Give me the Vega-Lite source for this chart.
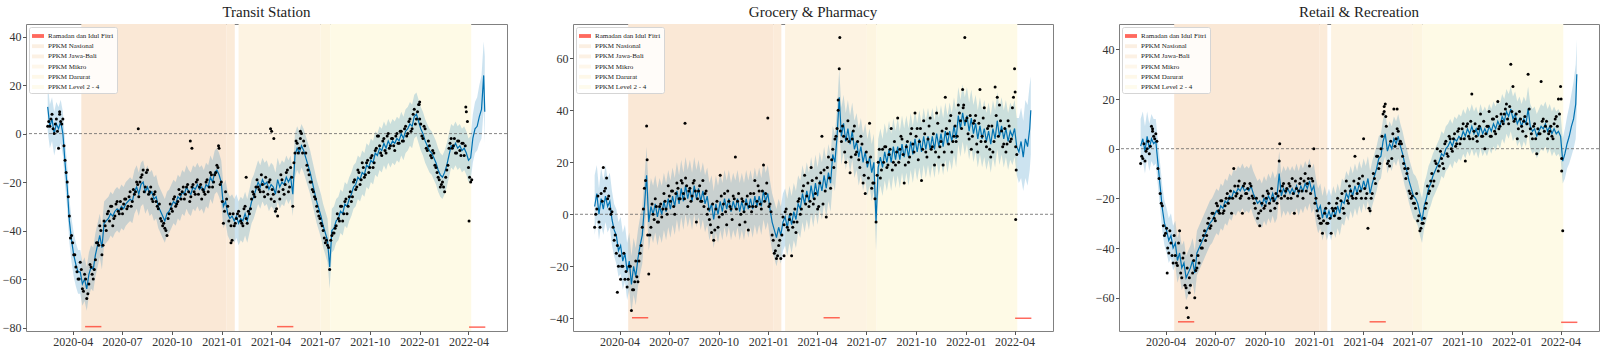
{
"$schema":"https://vega.github.io/schema/vega-lite/v6.json",
"padding":{"left":1,"top":4,"right":0,"bottom":0},
"datasets":{
"p":[{"k":"PPKM Nasional","s":"2020-04-17","e":"2021-01-10"},{"k":"PPKM Jawa-Bali","s":"2021-01-10","e":"2021-01-25"},{"k":"PPKM Mikro","s":"2021-02-01","e":"2021-07-02"},{"k":"PPKM Darurat","s":"2021-07-02","e":"2021-07-20"},{"k":"PPKM Level 2 - 4","s":"2021-07-20","e":"2022-04-06"}],
"r":[{"k":"Ramadan dan Idul Fitri","s":"2020-04-24","e":"2020-05-24","ya":-79.6,"yb":-39.8,"yc":-69.7},{"k":"Ramadan dan Idul Fitri","s":"2021-04-13","e":"2021-05-13","ya":-79.6,"yb":-39.8,"yc":-69.7},{"k":"Ramadan dan Idul Fitri","s":"2022-04-02","e":"2022-05-02","ya":-79.8,"yb":-40,"yc":-69.9}],
"x":[{"d":"2020-07-31","a":2,"b":35},{"d":"2020-11-04","a":-3},{"d":"2020-11-07","a":-6},{"d":"2021-01-18","a":-45},{"d":"2021-02-15","a":-18},{"d":"2021-04-01","a":2},{"d":"2021-04-03","a":1},{"d":"2021-04-07","a":-2},{"d":"2021-12-31","a":12},{"d":"2022-01-01","a":13},{"d":"2022-03-27","a":11},{"d":"2022-04-02","a":-36,"b":47,"c":20},{"d":"2022-04-07","a":-19},{"d":"2020-12-26","a":-5},{"d":"2021-05-26","a":1},{"d":"2020-03-08","a":9,"c":8},{"d":"2020-05-22","b":21},{"d":"2021-05-10","b":44,"c":17},{"d":"2021-05-13","b":68,"c":13},{"d":"2022-04-03","b":-2,"c":-9},{"d":"2022-04-04","b":17},{"d":"2020-03-28","b":-30},{"d":"2021-01-30","b":-16},{"d":"2021-12-27","b":41},{"d":"2020-05-10","c":-64},{"d":"2020-05-15","c":-58},{"d":"2020-04-04","c":-50},{"d":"2020-10-29","c":2},{"d":"2021-06-03","c":16}],
"n":[
{"d":"2020-02-17","a":5,"b":0,"c":-3},{"d":"2020-02-21","a":6,"b":7,"c":2},{"d":"2020-02-25","a":2,"b":-5,"c":-1},{"d":"2020-02-29","a":4,"b":5,"c":3},
{"d":"2020-03-04","a":1,"b":9,"c":1},{"d":"2020-03-08","a":8,"b":14,"c":7},{"d":"2020-03-12","a":4,"b":7,"c":4},{"d":"2020-03-16","a":-5,"b":0,"c":3},
{"d":"2020-03-20","a":-16,"b":-5,"c":-12},{"d":"2020-03-24","a":-26,"b":-8,"c":-22},{"d":"2020-03-28","a":-43,"b":-12,"c":-31},{"d":"2020-04-01","a":-45,"b":-16,"c":-34},
{"d":"2020-04-05","a":-50,"b":-20,"c":-40},{"d":"2020-04-09","a":-57,"b":-15,"c":-33},{"d":"2020-04-13","a":-60,"b":-22,"c":-43},{"d":"2020-04-17","a":-56,"b":-25,"c":-35},
{"d":"2020-04-21","a":-65,"b":-20,"c":-46},{"d":"2020-04-25","a":-60,"b":-29,"c":-38},{"d":"2020-04-29","a":-66,"b":-26,"c":-50},{"d":"2020-05-03","a":-54,"b":-24,"c":-44},
{"d":"2020-05-07","a":-58,"b":-18,"c":-55},{"d":"2020-05-11","a":-56,"b":-12,"c":-48},{"d":"2020-05-15","a":-45,"b":2,"c":-52},{"d":"2020-05-19","a":-46,"b":13,"c":-43},
{"d":"2020-05-23","a":-40,"b":-8,"c":-45},{"d":"2020-05-27","a":-46,"b":-8,"c":-49},{"d":"2020-05-31","a":-38,"b":4,"c":-43},{"d":"2020-06-04","a":-33,"b":-2,"c":-37},
{"d":"2020-06-08","a":-36,"b":3,"c":-40},{"d":"2020-06-12","a":-30,"b":-3,"c":-33},{"d":"2020-06-16","a":-35,"b":4,"c":-35},{"d":"2020-06-20","a":-29,"b":2,"c":-28},
{"d":"2020-06-24","a":-32,"b":5,"c":-31},{"d":"2020-06-28","a":-28,"b":0,"c":-26},{"d":"2020-07-02","a":-33,"b":7,"c":-29},{"d":"2020-07-06","a":-27,"b":9,"c":-23},
{"d":"2020-07-10","a":-31,"b":3,"c":-26},{"d":"2020-07-14","a":-26,"b":8,"c":-21},{"d":"2020-07-18","a":-30,"b":10,"c":-25},{"d":"2020-07-22","a":-23,"b":6,"c":-20},
{"d":"2020-07-26","a":-24,"b":12,"c":-22},{"d":"2020-07-30","a":-21,"b":6,"c":-17},{"d":"2020-08-03","a":-20,"b":11,"c":-20},{"d":"2020-08-07","a":-17,"b":9,"c":-15},
{"d":"2020-08-11","a":-24,"b":5,"c":-18},{"d":"2020-08-15","a":-16,"b":12,"c":-13},{"d":"2020-08-19","a":-25,"b":9,"c":-19},{"d":"2020-08-23","a":-22,"b":6,"c":-15},
{"d":"2020-08-27","a":-28,"b":11,"c":-18},{"d":"2020-08-31","a":-24,"b":5,"c":-16},{"d":"2020-09-04","a":-30,"b":3,"c":-14},{"d":"2020-09-08","a":-29,"b":9,"c":-19},
{"d":"2020-09-12","a":-36,"b":2,"c":-22},{"d":"2020-09-16","a":-37,"b":-4,"c":-20},{"d":"2020-09-20","a":-40,"b":4,"c":-26},{"d":"2020-09-24","a":-35,"b":-6,"c":-25},
{"d":"2020-09-28","a":-29,"b":5,"c":-19},{"d":"2020-10-02","a":-32,"b":-1,"c":-23},{"d":"2020-10-06","a":-26,"b":7,"c":-17},{"d":"2020-10-10","a":-29,"b":4,"c":-22},
{"d":"2020-10-14","a":-23,"b":1,"c":-16},{"d":"2020-10-18","a":-27,"b":9,"c":-21},{"d":"2020-10-22","a":-22,"b":3,"c":-18},{"d":"2020-10-26","a":-25,"b":-2,"c":-19},
{"d":"2020-10-30","a":-21,"b":6,"c":-17},{"d":"2020-11-03","a":-28,"b":2,"c":-15},{"d":"2020-11-07","a":-22,"b":8,"c":-19},{"d":"2020-11-11","a":-24,"b":0,"c":-16},
{"d":"2020-11-15","a":-20,"b":5,"c":-14},{"d":"2020-11-19","a":-25,"b":-3,"c":-20},{"d":"2020-11-23","a":-21,"b":7,"c":-18},{"d":"2020-11-27","a":-23,"b":3,"c":-13},
{"d":"2020-12-01","a":-25,"b":1,"c":-19},{"d":"2020-12-05","a":-19,"b":8,"c":-14},{"d":"2020-12-09","a":-22,"b":3,"c":-17},{"d":"2020-12-13","a":-17,"b":11,"c":-13},
{"d":"2020-12-17","a":-20,"b":4,"c":-17},{"d":"2020-12-21","a":-16,"b":9,"c":-12},{"d":"2020-12-25","a":-14,"b":5,"c":-18},{"d":"2020-12-29","a":-21,"b":12,"c":-13},
{"d":"2021-01-02","a":-28,"b":3,"c":-22},{"d":"2021-01-06","a":-32,"b":1,"c":-25},{"d":"2021-01-10","a":-27,"b":-10,"c":-28},{"d":"2021-01-14","a":-36,"b":-14,"c":-30},
{"d":"2021-01-18","a":-38,"b":-16,"c":-29},{"d":"2021-01-22","a":-33,"b":-10,"c":-24},{"d":"2021-01-26","a":-37,"b":-8,"c":-30},{"d":"2021-01-30","a":-33,"b":-4,"c":-28},
{"d":"2021-02-03","a":-34,"b":2,"c":-24},{"d":"2021-02-07","a":-37,"b":-6,"c":-27},{"d":"2021-02-11","a":-31,"b":0,"c":-22},{"d":"2021-02-15","a":-35,"b":-5,"c":-28},
{"d":"2021-02-19","a":-32,"b":2,"c":-21},{"d":"2021-02-23","a":-31,"b":-3,"c":-24},{"d":"2021-02-27","a":-24,"b":6,"c":-17},{"d":"2021-03-03","a":-26,"b":2,"c":-21},
{"d":"2021-03-07","a":-19,"b":11,"c":-15},{"d":"2021-03-11","a":-23,"b":4,"c":-19},{"d":"2021-03-15","a":-17,"b":12,"c":-13},{"d":"2021-03-19","a":-24,"b":5,"c":-20},
{"d":"2021-03-23","a":-18,"b":13,"c":-14},{"d":"2021-03-27","a":-25,"b":6,"c":-17},{"d":"2021-03-31","a":-19,"b":14,"c":-11},{"d":"2021-04-04","a":-23,"b":3,"c":-16},
{"d":"2021-04-08","a":-28,"b":16,"c":-18},{"d":"2021-04-12","a":-31,"b":4,"c":-24},{"d":"2021-04-16","a":-24,"b":9,"c":-20},{"d":"2021-04-20","a":-17,"b":18,"c":-10},
{"d":"2021-04-24","a":-23,"b":14,"c":-14},{"d":"2021-04-28","a":-21,"b":21,"c":-3},{"d":"2021-05-02","a":-15,"b":18,"c":-6},{"d":"2021-05-06","a":-22,"b":30,"c":5},
{"d":"2021-05-10","a":-18,"b":40,"c":15},{"d":"2021-05-14","a":-12,"b":32,"c":9},{"d":"2021-05-18","a":-3,"b":34,"c":-5},{"d":"2021-05-22","a":-8,"b":24,"c":3},
{"d":"2021-05-26","a":-2,"b":29,"c":6},{"d":"2021-05-30","a":-8,"b":28,"c":1},{"d":"2021-06-03","a":-5,"b":22,"c":8},{"d":"2021-06-07","a":-13,"b":32,"c":2},
{"d":"2021-06-11","a":-17,"b":23,"c":2},{"d":"2021-06-15","a":-20,"b":28,"c":-6},{"d":"2021-06-19","a":-24,"b":18,"c":-12},{"d":"2021-06-23","a":-27,"b":27,"c":-8},
{"d":"2021-06-27","a":-32,"b":15,"c":-18},{"d":"2021-07-01","a":-35,"b":24,"c":-19},{"d":"2021-07-05","a":-38,"b":14,"c":-22},{"d":"2021-07-09","a":-43,"b":22,"c":-18},
{"d":"2021-07-13","a":-44,"b":12,"c":-27},{"d":"2021-07-17","a":-47,"b":6,"c":-32},{"d":"2021-07-21","a":-44,"b":15,"c":-30},{"d":"2021-07-25","a":-41,"b":25,"c":-24},
{"d":"2021-07-29","a":-39,"b":17,"c":-15},{"d":"2021-08-02","a":-33,"b":20,"c":-17},{"d":"2021-08-06","a":-36,"b":26,"c":-10},{"d":"2021-08-10","a":-30,"b":19,"c":-13},
{"d":"2021-08-14","a":-33,"b":25,"c":-6},{"d":"2021-08-18","a":-27,"b":17,"c":-9},{"d":"2021-08-22","a":-30,"b":28,"c":-1},{"d":"2021-08-26","a":-24,"b":24,"c":-6},
{"d":"2021-08-30","a":-26,"b":20,"c":2},{"d":"2021-09-03","a":-19,"b":30,"c":-2},{"d":"2021-09-07","a":-22,"b":23,"c":5},{"d":"2021-09-11","a":-16,"b":19,"c":0},
{"d":"2021-09-15","a":-19,"b":28,"c":4},{"d":"2021-09-19","a":-14,"b":22,"c":1},{"d":"2021-09-23","a":-17,"b":33,"c":7},{"d":"2021-09-27","a":-11,"b":24,"c":2},
{"d":"2021-10-01","a":-14,"b":30,"c":8},{"d":"2021-10-05","a":-9,"b":21,"c":4},{"d":"2021-10-09","a":-12,"b":33,"c":9},{"d":"2021-10-13","a":-6,"b":25,"c":5},
{"d":"2021-10-17","a":-1,"b":31,"c":11},{"d":"2021-10-21","a":-8,"b":22,"c":4},{"d":"2021-10-25","a":-3,"b":34,"c":10},{"d":"2021-10-29","a":-7,"b":25,"c":3},
{"d":"2021-11-02","a":-1,"b":31,"c":9},{"d":"2021-11-06","a":-6,"b":24,"c":5},{"d":"2021-11-10","a":-2,"b":35,"c":11},{"d":"2021-11-14","a":-5,"b":26,"c":6},
{"d":"2021-11-18","a":-1,"b":32,"c":9},{"d":"2021-11-22","a":-4,"b":24,"c":5},{"d":"2021-11-26","a":1,"b":33,"c":12},{"d":"2021-11-30","a":-3,"b":27,"c":7},
{"d":"2021-12-04","a":2,"b":38,"c":13},{"d":"2021-12-08","a":-1,"b":28,"c":8},{"d":"2021-12-12","a":5,"b":34,"c":14},{"d":"2021-12-16","a":1,"b":30,"c":10},
{"d":"2021-12-20","a":8,"b":39,"c":16},{"d":"2021-12-24","a":4,"b":33,"c":12},{"d":"2021-12-28","a":9,"b":42,"c":17},{"d":"2022-01-01","a":6,"b":36,"c":15},
{"d":"2022-01-05","a":-1,"b":31,"c":11},{"d":"2022-01-09","a":3,"b":38,"c":14},{"d":"2022-01-13","a":-6,"b":30,"c":8},{"d":"2022-01-17","a":-3,"b":36,"c":12},
{"d":"2022-01-21","a":-9,"b":27,"c":7},{"d":"2022-01-25","a":-7,"b":35,"c":13},{"d":"2022-01-29","a":-13,"b":28,"c":10},{"d":"2022-02-02","a":-16,"b":37,"c":16},
{"d":"2022-02-06","a":-19,"b":28,"c":6},{"d":"2022-02-10","a":-21,"b":33,"c":9},{"d":"2022-02-14","a":-22,"b":25,"c":4},{"d":"2022-02-18","a":-18,"b":34,"c":8},
{"d":"2022-02-22","a":-13,"b":28,"c":6},{"d":"2022-02-26","a":-4,"b":38,"c":11},{"d":"2022-03-02","a":-6,"b":30,"c":7},{"d":"2022-03-06","a":-2,"b":36,"c":11},
{"d":"2022-03-10","a":-8,"b":26,"c":6},{"d":"2022-03-14","a":-3,"b":33,"c":9},{"d":"2022-03-18","a":-9,"b":27,"c":4},{"d":"2022-03-22","a":-4,"b":34,"c":12},
{"d":"2022-03-26","a":-5,"b":29,"c":9},{"d":"2022-03-30","a":5,"b":45,"c":14},{"d":"2022-04-03","a":-18,"b":26,"c":-4}
],
"m":[
{"d":"2020-02-15","a":3,"af":11,"al":1,"au":21,"b":-5,"bf":3,"bl":-8,"bu":15,"c":-6,"cf":1,"cl":-8,"cu":12},
{"d":"2020-02-19","a":3,"af":3,"al":-6,"au":12,"b":2,"bf":8,"bl":-2,"bu":19,"c":-4,"cf":4,"cl":-5,"cu":15},
{"d":"2020-02-23","a":8,"af":6,"al":-3,"au":15,"b":-3,"bf":0,"bl":-10,"bu":10,"c":-5,"cf":-1,"cl":-10,"cu":9},
{"d":"2020-02-27","a":0,"af":0,"al":-9,"au":9,"b":8,"bf":6,"bl":-4,"bu":18,"c":0,"cf":5,"cl":-4,"cu":15},
{"d":"2020-03-02","a":6,"af":4,"al":-5,"au":13,"b":18,"bf":2,"bl":-8,"bu":13,"c":-2,"cf":0,"cl":-9,"cu":10},
{"d":"2020-03-06","a":-6,"af":2,"al":-7,"au":11,"b":10,"bf":7,"bl":-3,"bu":19,"c":9,"cf":4,"cl":-5,"cu":14},
{"d":"2020-03-10","a":5,"af":5,"al":-4,"au":14,"b":6,"bf":3,"bl":-7,"bu":14,"c":5,"cf":2,"cl":-7,"cu":12},
{"d":"2020-03-14","a":6,"af":0,"al":-9,"au":9,"b":2,"bf":5,"bl":-5,"bu":16,"c":6,"cf":3,"cl":-6,"cu":12},
{"d":"2020-03-18","a":-11,"af":-12,"al":-21,"au":-3,"b":1,"bf":-2,"bl":-12,"bu":9,"c":-8,"cf":-6,"cl":-15,"cu":3},
{"d":"2020-03-22","a":-20,"af":-22,"al":-31,"au":-13,"b":-10,"bf":-6,"bl":-16,"bu":4,"c":-18,"cf":-15,"cl":-24,"cu":-6},
{"d":"2020-03-26","a":-34,"af":-36,"al":-45,"au":-27,"b":-15,"bf":-8,"bl":-19,"bu":2,"c":-23,"cf":-24,"cl":-33,"cu":-15},
{"d":"2020-03-30","a":-42,"af":-44,"al":-53,"au":-35,"b":-20,"bf":-14,"bl":-24,"bu":-3,"c":-35,"cf":-30,"cl":-39,"cu":-21},
{"d":"2020-04-03","a":-50,"af":-50,"al":-59,"au":-41,"b":-25,"bf":-12,"bl":-23,"bu":-1,"c":-32,"cf":-33,"cl":-42,"cu":-24},
{"d":"2020-04-07","a":-55,"af":-54,"al":-63,"au":-45,"b":-20,"bf":-18,"bl":-29,"bu":-7,"c":-42,"cf":-37,"cl":-46,"cu":-28},
{"d":"2020-04-11","a":-60,"af":-57,"al":-66,"au":-48,"b":-25,"bf":-15,"bl":-26,"bu":-4,"c":-38,"cf":-35,"cl":-44,"cu":-26},
{"d":"2020-04-15","a":-53,"af":-57,"al":-66,"au":-48,"b":-28,"bf":-22,"bl":-33,"bu":-11,"c":-46,"cf":-40,"cl":-49,"cu":-31},
{"d":"2020-04-19","a":-64,"af":-62,"al":-71,"au":-53,"b":-20,"bf":-18,"bl":-29,"bu":-7,"c":-43,"cf":-38,"cl":-47,"cu":-29},
{"d":"2020-04-23","a":-58,"af":-60,"al":-69,"au":-51,"b":-37,"bf":-27,"bl":-38,"bu":-16,"c":-47,"cf":-45,"cl":-54,"cu":-36},
{"d":"2020-04-27","a":-68,"af":-64,"al":-73,"au":-55,"b":-29,"bf":-20,"bl":-31,"bu":-9,"c":-33,"cf":-42,"cl":-51,"cu":-33},
{"d":"2020-05-01","a":-62,"af":-58,"al":-67,"au":-49,"b":-18,"bf":-24,"bl":-35,"bu":-13,"c":-52,"cf":-48,"cl":-57,"cu":-39},
{"d":"2020-05-05","a":-55,"af":-55,"al":-64,"au":-46,"b":-26,"bf":-17,"bl":-28,"bu":-6,"c":-42,"cf":-46,"cl":-55,"cu":-37},
{"d":"2020-05-09","a":-60,"af":-56,"al":-65,"au":-47,"b":-15,"bf":-12,"bl":-23,"bu":-1,"c":-56,"cf":-52,"cl":-61,"cu":-43},
{"d":"2020-05-13","a":-52,"af":-50,"al":-59,"au":-41,"b":-5,"bf":-8,"bl":-19,"bu":3,"c":-68,"cf":-50,"cl":-59,"cu":-41},
{"d":"2020-05-17","a":-45,"af":-46,"al":-55,"au":-37,"b":10,"bf":3,"bl":-8,"bu":14,"c":-55,"cf":-48,"cl":-57,"cu":-39},
{"d":"2020-05-21","a":-38,"af":-42,"al":-51,"au":-33,"b":34,"bf":15,"bl":4,"bu":26,"c":-50,"cf":-45,"cl":-54,"cu":-36},
{"d":"2020-05-25","a":-50,"af":-47,"al":-56,"au":-38,"b":-23,"bf":-3,"bl":-14,"bu":8,"c":-60,"cf":-50,"cl":-59,"cu":-41},
{"d":"2020-05-29","a":-36,"af":-37,"al":-46,"au":-28,"b":-5,"bf":3,"bl":-8,"bu":14,"c":-48,"cf":-42,"cl":-51,"cu":-33},
{"d":"2020-06-02","a":-40,"af":-36,"al":-45,"au":-27,"b":0,"bf":0,"bl":-11,"bu":11,"c":-46,"cf":-40,"cl":-49,"cu":-31},
{"d":"2020-06-06","a":-32,"af":-35,"al":-44,"au":-26,"b":6,"bf":4,"bl":-7,"bu":15,"c":-40,"cf":-38,"cl":-47,"cu":-29},
{"d":"2020-06-10","a":-30,"af":-33,"al":-42,"au":-24,"b":-3,"bf":-1,"bl":-12,"bu":10,"c":-35,"cf":-36,"cl":-45,"cu":-27},
{"d":"2020-06-14","a":-38,"af":-34,"al":-43,"au":-25,"b":3,"bf":3,"bl":-8,"bu":14,"c":-37,"cf":-34,"cl":-43,"cu":-25},
{"d":"2020-06-18","a":-34,"af":-32,"al":-41,"au":-23,"b":-1,"bf":0,"bl":-11,"bu":11,"c":-30,"cf":-32,"cl":-41,"cu":-23},
{"d":"2020-06-22","a":-28,"af":-31,"al":-40,"au":-22,"b":8,"bf":5,"bl":-6,"bu":16,"c":-32,"cf":-30,"cl":-39,"cu":-21},
{"d":"2020-06-26","a":-33,"af":-32,"al":-41,"au":-23,"b":2,"bf":1,"bl":-10,"bu":12,"c":-26,"cf":-29,"cl":-38,"cu":-20},
{"d":"2020-06-30","a":-31,"af":-30,"al":-39,"au":-21,"b":11,"bf":6,"bl":-5,"bu":17,"c":-28,"cf":-27,"cl":-36,"cu":-18},
{"d":"2020-07-04","a":-29,"af":-31,"al":-40,"au":-22,"b":5,"bf":2,"bl":-9,"bu":13,"c":-22,"cf":-25,"cl":-34,"cu":-16},
{"d":"2020-07-08","a":-27,"af":-29,"al":-38,"au":-20,"b":9,"bf":7,"bl":-4,"bu":18,"c":-25,"cf":-26,"cl":-35,"cu":-17},
{"d":"2020-07-12","a":-30,"af":-28,"al":-37,"au":-19,"b":0,"bf":3,"bl":-8,"bu":14,"c":-21,"cf":-23,"cl":-32,"cu":-14},
{"d":"2020-07-16","a":-24,"af":-27,"al":-36,"au":-18,"b":12,"bf":9,"bl":-2,"bu":20,"c":-26,"cf":-24,"cl":-33,"cu":-15},
{"d":"2020-07-20","a":-28,"af":-28,"al":-37,"au":-19,"b":6,"bf":4,"bl":-7,"bu":15,"c":-23,"cf":-21,"cl":-30,"cu":-12},
{"d":"2020-07-24","a":-25,"af":-24,"al":-33,"au":-15,"b":13,"bf":10,"bl":-1,"bu":21,"c":-18,"cf":-22,"cl":-31,"cu":-13},
{"d":"2020-07-28","a":-20,"af":-22,"al":-31,"au":-13,"b":8,"bf":5,"bl":-6,"bu":16,"c":-20,"cf":-19,"cl":-28,"cu":-10},
{"d":"2020-08-01","a":-26,"af":-25,"al":-34,"au":-16,"b":14,"bf":11,"bl":0,"bu":22,"c":-26,"cf":-20,"cl":-29,"cu":-11},
{"d":"2020-08-05","a":-18,"af":-21,"al":-30,"au":-12,"b":3,"bf":6,"bl":-5,"bu":17,"c":-8,"cf":-17,"cl":-26,"cu":-8},
{"d":"2020-08-09","a":-15,"af":-20,"al":-29,"au":-11,"b":10,"bf":10,"bl":-1,"bu":21,"c":-19,"cf":-18,"cl":-27,"cu":-9},
{"d":"2020-08-13","a":-22,"af":-24,"al":-33,"au":-15,"b":7,"bf":5,"bl":-6,"bu":16,"c":-15,"cf":-16,"cl":-25,"cu":-7},
{"d":"2020-08-17","a":-15,"af":-22,"al":-31,"au":-13,"b":13,"bf":11,"bl":0,"bu":22,"c":-20,"cf":-17,"cl":-26,"cu":-8},
{"d":"2020-08-21","a":-24,"af":-25,"al":-34,"au":-16,"b":-3,"bf":6,"bl":-5,"bu":17,"c":-26,"cf":-15,"cl":-24,"cu":-6},
{"d":"2020-08-25","a":-27,"af":-24,"al":-33,"au":-15,"b":9,"bf":10,"bl":-1,"bu":21,"c":-14,"cf":-17,"cl":-26,"cu":-8},
{"d":"2020-08-29","a":-25,"af":-27,"al":-36,"au":-18,"b":5,"bf":5,"bl":-6,"bu":16,"c":-18,"cf":-16,"cl":-25,"cu":-7},
{"d":"2020-09-02","a":-28,"af":-26,"al":-35,"au":-17,"b":13,"bf":9,"bl":-2,"bu":20,"c":-20,"cf":-17,"cl":-26,"cu":-8},
{"d":"2020-09-06","a":-31,"af":-30,"al":-39,"au":-21,"b":8,"bf":4,"bl":-7,"bu":15,"c":-15,"cf":-15,"cl":-24,"cu":-6},
{"d":"2020-09-10","a":-35,"af":-32,"al":-41,"au":-23,"b":0,"bf":7,"bl":-4,"bu":18,"c":-20,"cf":-18,"cl":-27,"cu":-9},
{"d":"2020-09-14","a":-38,"af":-34,"al":-43,"au":-25,"b":-2,"bf":1,"bl":-10,"bu":12,"c":-24,"cf":-20,"cl":-29,"cu":-11},
{"d":"2020-09-18","a":-39,"af":-36,"al":-45,"au":-27,"b":-7,"bf":4,"bl":-7,"bu":15,"c":-28,"cf":-22,"cl":-31,"cu":-13},
{"d":"2020-09-22","a":-42,"af":-33,"al":-42,"au":-24,"b":-10,"bf":-2,"bl":-13,"bu":9,"c":-31,"cf":-21,"cl":-30,"cu":-12},
{"d":"2020-09-26","a":-33,"af":-32,"al":-41,"au":-23,"b":2,"bf":4,"bl":-7,"bu":15,"c":-22,"cf":-23,"cl":-32,"cu":-14},
{"d":"2020-09-30","a":-31,"af":-30,"al":-39,"au":-21,"b":-5,"bf":0,"bl":-11,"bu":11,"c":-24,"cf":-20,"cl":-29,"cu":-11},
{"d":"2020-10-04","a":-27,"af":-28,"al":-37,"au":-19,"b":15,"bf":5,"bl":-6,"bu":16,"c":-20,"cf":-22,"cl":-31,"cu":-13},
{"d":"2020-10-08","a":-30,"af":-29,"al":-38,"au":-20,"b":0,"bf":1,"bl":-10,"bu":12,"c":-18,"cf":-19,"cl":-28,"cu":-10},
{"d":"2020-10-12","a":-28,"af":-26,"al":-35,"au":-17,"b":8,"bf":6,"bl":-5,"bu":17,"c":-25,"cf":-21,"cl":-30,"cu":-12},
{"d":"2020-10-16","a":-25,"af":-27,"al":-36,"au":-18,"b":-4,"bf":2,"bl":-9,"bu":13,"c":-20,"cf":-18,"cl":-27,"cu":-9},
{"d":"2020-10-20","a":-24,"af":-24,"al":-33,"au":-15,"b":5,"bf":6,"bl":-5,"bu":17,"c":-24,"cf":-21,"cl":-30,"cu":-12},
{"d":"2020-10-24","a":-27,"af":-25,"al":-34,"au":-16,"b":2,"bf":1,"bl":-10,"bu":12,"c":-22,"cf":-19,"cl":-28,"cu":-10},
{"d":"2020-10-28","a":-22,"af":-22,"al":-31,"au":-13,"b":7,"bf":5,"bl":-6,"bu":16,"c":-5,"cf":-10,"cl":-19,"cu":-1},
{"d":"2020-11-01","a":-24,"af":-24,"al":-33,"au":-15,"b":22,"bf":2,"bl":-9,"bu":13,"c":-20,"cf":-19,"cl":-28,"cu":-10},
{"d":"2020-11-05","a":-26,"af":-25,"al":-34,"au":-16,"b":5,"bf":6,"bl":-5,"bu":17,"c":-14,"cf":-16,"cl":-25,"cu":-7},
{"d":"2020-11-09","a":-21,"af":-22,"al":-31,"au":-13,"b":-4,"bf":1,"bl":-10,"bu":12,"c":-17,"cf":-18,"cl":-27,"cu":-9},
{"d":"2020-11-13","a":-25,"af":-23,"al":-32,"au":-14,"b":6,"bf":5,"bl":-6,"bu":16,"c":-20,"cf":-16,"cl":-25,"cu":-7},
{"d":"2020-11-17","a":-19,"af":-21,"al":-30,"au":-12,"b":1,"bf":1,"bl":-10,"bu":12,"c":-15,"cf":-18,"cl":-27,"cu":-9},
{"d":"2020-11-21","a":-22,"af":-23,"al":-32,"au":-14,"b":4,"bf":6,"bl":-5,"bu":17,"c":-12,"cf":-16,"cl":-25,"cu":-7},
{"d":"2020-11-25","a":-27,"af":-22,"al":-31,"au":-13,"b":-6,"bf":2,"bl":-9,"bu":13,"c":-26,"cf":-18,"cl":-27,"cu":-9},
{"d":"2020-11-29","a":-24,"af":-24,"al":-33,"au":-15,"b":8,"bf":6,"bl":-5,"bu":17,"c":-16,"cf":-15,"cl":-24,"cu":-6},
{"d":"2020-12-03","a":-20,"af":-21,"al":-30,"au":-12,"b":3,"bf":2,"bl":-9,"bu":13,"c":-17,"cf":-18,"cl":-27,"cu":-9},
{"d":"2020-12-07","a":-24,"af":-22,"al":-31,"au":-13,"b":13,"bf":7,"bl":-4,"bu":18,"c":-12,"cf":-15,"cl":-24,"cu":-6},
{"d":"2020-12-11","a":-16,"af":-18,"al":-27,"au":-9,"b":5,"bf":3,"bl":-8,"bu":14,"c":-20,"cf":-17,"cl":-26,"cu":-8},
{"d":"2020-12-15","a":-22,"af":-20,"al":-29,"au":-11,"b":9,"bf":7,"bl":-4,"bu":18,"c":-10,"cf":-14,"cl":-23,"cu":-5},
{"d":"2020-12-19","a":-17,"af":-16,"al":-25,"au":-7,"b":2,"bf":3,"bl":-8,"bu":14,"c":-14,"cf":-16,"cl":-25,"cu":-7},
{"d":"2020-12-23","a":-13,"af":-15,"al":-24,"au":-6,"b":19,"bf":9,"bl":-2,"bu":20,"c":-7,"cf":-13,"cl":-22,"cu":-4},
{"d":"2020-12-27","a":-6,"af":-17,"al":-26,"au":-8,"b":8,"bf":5,"bl":-6,"bu":16,"c":-12,"cf":-17,"cl":-26,"cu":-8},
{"d":"2020-12-31","a":-20,"af":-20,"al":-29,"au":-11,"b":37,"bf":8,"bl":-3,"bu":19,"c":0,"cf":-15,"cl":-24,"cu":-6},
{"d":"2021-01-04","a":-37,"af":-30,"al":-39,"au":-21,"b":4,"bf":2,"bl":-9,"bu":13,"c":-20,"cf":-21,"cl":-30,"cu":-12},
{"d":"2021-01-08","a":-24,"af":-28,"al":-37,"au":-19,"b":-8,"bf":-3,"bl":-14,"bu":8,"c":-27,"cf":-25,"cl":-34,"cu":-16},
{"d":"2021-01-12","a":-30,"af":-33,"al":-42,"au":-24,"b":-15,"bf":-6,"bl":-17,"bu":5,"c":-30,"cf":-23,"cl":-32,"cu":-14},
{"d":"2021-01-16","a":-33,"af":-35,"al":-44,"au":-26,"b":-17,"bf":-9,"bl":-20,"bu":2,"c":-34,"cf":-28,"cl":-37,"cu":-19},
{"d":"2021-01-20","a":-44,"af":-34,"al":-43,"au":-25,"b":-12,"bf":-5,"bl":-16,"bu":6,"c":-26,"cf":-24,"cl":-33,"cu":-15},
{"d":"2021-01-24","a":-38,"af":-36,"al":-45,"au":-27,"b":-17,"bf":-8,"bl":-19,"bu":3,"c":-30,"cf":-28,"cl":-37,"cu":-19},
{"d":"2021-01-28","a":-35,"af":-34,"al":-43,"au":-25,"b":-1,"bf":-3,"bl":-14,"bu":8,"c":-22,"cf":-25,"cl":-34,"cu":-16},
{"d":"2021-02-01","a":-32,"af":-37,"al":-46,"au":-28,"b":1,"bf":-1,"bl":-12,"bu":10,"c":-34,"cf":-28,"cl":-37,"cu":-19},
{"d":"2021-02-05","a":-36,"af":-35,"al":-44,"au":-26,"b":-5,"bf":-5,"bl":-16,"bu":6,"c":-25,"cf":-24,"cl":-33,"cu":-15},
{"d":"2021-02-09","a":-38,"af":-36,"al":-45,"au":-27,"b":-2,"bf":0,"bl":-11,"bu":11,"c":-24,"cf":-27,"cl":-36,"cu":-18},
{"d":"2021-02-13","a":-30,"af":-33,"al":-42,"au":-24,"b":-16,"bf":-4,"bl":-15,"bu":7,"c":-20,"cf":-23,"cl":-32,"cu":-14},
{"d":"2021-02-17","a":-37,"af":-36,"al":-45,"au":-27,"b":-3,"bf":1,"bl":-10,"bu":12,"c":-28,"cf":-26,"cl":-35,"cu":-17},
{"d":"2021-02-21","a":-33,"af":-32,"al":-41,"au":-23,"b":-7,"bf":-2,"bl":-13,"bu":9,"c":-18,"cf":-21,"cl":-30,"cu":-12},
{"d":"2021-02-25","a":-27,"af":-28,"al":-37,"au":-19,"b":5,"bf":4,"bl":-7,"bu":15,"c":-26,"cf":-22,"cl":-31,"cu":-13},
{"d":"2021-03-01","a":-25,"af":-26,"al":-35,"au":-17,"b":0,"bf":2,"bl":-9,"bu":13,"c":-13,"cf":-18,"cl":-27,"cu":-9},
{"d":"2021-03-05","a":-22,"af":-23,"al":-32,"au":-14,"b":9,"bf":8,"bl":-3,"bu":19,"c":-22,"cf":-20,"cl":-29,"cu":-11},
{"d":"2021-03-09","a":-22,"af":-20,"al":-29,"au":-11,"b":15,"bf":4,"bl":-7,"bu":15,"c":-17,"cf":-16,"cl":-25,"cu":-7},
{"d":"2021-03-13","a":-24,"af":-22,"al":-31,"au":-13,"b":7,"bf":9,"bl":-2,"bu":20,"c":-20,"cf":-19,"cl":-28,"cu":-10},
{"d":"2021-03-17","a":-21,"af":-19,"al":-28,"au":-10,"b":3,"bf":5,"bl":-6,"bu":16,"c":-3,"cf":-15,"cl":-24,"cu":-6},
{"d":"2021-03-21","a":-26,"af":-21,"al":-30,"au":-12,"b":18,"bf":11,"bl":0,"bu":22,"c":-18,"cf":-18,"cl":-27,"cu":-9},
{"d":"2021-03-25","a":-22,"af":-20,"al":-29,"au":-11,"b":4,"bf":6,"bl":-5,"bu":17,"c":-12,"cf":-14,"cl":-23,"cu":-5},
{"d":"2021-03-29","a":-20,"af":-23,"al":-32,"au":-14,"b":8,"bf":12,"bl":1,"bu":23,"c":-20,"cf":-17,"cl":-26,"cu":-8},
{"d":"2021-04-02","a":-27,"af":-21,"al":-30,"au":-12,"b":2,"bf":7,"bl":-4,"bu":18,"c":4,"cf":-13,"cl":-22,"cu":-4},
{"d":"2021-04-06","a":-25,"af":-22,"al":-31,"au":-13,"b":12,"bf":13,"bl":2,"bu":24,"c":-20,"cf":-16,"cl":-25,"cu":-7},
{"d":"2021-04-10","a":-32,"af":-25,"al":-34,"au":-16,"b":30,"bf":9,"bl":-2,"bu":20,"c":-32,"cf":-12,"cl":-21,"cu":-3},
{"d":"2021-04-14","a":-34,"af":-19,"al":-28,"au":-10,"b":17,"bf":15,"bl":4,"bu":26,"c":-25,"cf":-18,"cl":-27,"cu":-9},
{"d":"2021-04-18","a":-27,"af":-22,"al":-31,"au":-13,"b":-1,"bf":10,"bl":-1,"bu":21,"c":-18,"cf":-14,"cl":-23,"cu":-5},
{"d":"2021-04-22","a":-19,"af":-20,"al":-29,"au":-11,"b":22,"bf":16,"bl":5,"bu":27,"c":-12,"cf":-11,"cl":-20,"cu":-2},
{"d":"2021-04-26","a":-25,"af":-21,"al":-30,"au":-12,"b":10,"bf":12,"bl":1,"bu":23,"c":-3,"cf":-8,"cl":-17,"cu":1},
{"d":"2021-04-30","a":-16,"af":-18,"al":-27,"au":-9,"b":25,"bf":23,"bl":12,"bu":34,"c":-8,"cf":-4,"cl":-13,"cu":5},
{"d":"2021-05-04","a":-24,"af":-20,"al":-29,"au":-11,"b":29,"bf":20,"bl":9,"bu":31,"c":0,"cf":-3,"cl":-12,"cu":6},
{"d":"2021-05-08","a":-14,"af":-18,"al":-27,"au":-9,"b":33,"bf":30,"bl":19,"bu":41,"c":14,"cf":3,"cl":-6,"cu":12},
{"d":"2021-05-12","a":-30,"af":-25,"al":-34,"au":-16,"b":56,"bf":45,"bl":34,"bu":56,"c":18,"cf":6,"cl":-3,"cu":15},
{"d":"2021-05-16","a":-8,"af":-9,"al":-18,"au":0,"b":28,"bf":30,"bl":19,"bu":41,"c":-6,"cf":-1,"cl":-10,"cu":8},
{"d":"2021-05-20","a":-4,"af":-6,"al":-15,"au":3,"b":30,"bf":35,"bl":24,"bu":46,"c":-7,"cf":2,"cl":-7,"cu":11},
{"d":"2021-05-24","a":-6,"af":-8,"al":-17,"au":1,"b":20,"bf":28,"bl":17,"bu":39,"c":-4,"cf":0,"cl":-9,"cu":9},
{"d":"2021-05-28","a":0,"af":-5,"al":-14,"au":4,"b":36,"bf":33,"bl":22,"bu":44,"c":16,"cf":4,"cl":-5,"cu":13},
{"d":"2021-06-01","a":-3,"af":-7,"al":-16,"au":2,"b":16,"bf":27,"bl":16,"bu":38,"c":4,"cf":2,"cl":-7,"cu":11},
{"d":"2021-06-05","a":-8,"af":-10,"al":-19,"au":-1,"b":29,"bf":32,"bl":21,"bu":43,"c":7,"cf":5,"cl":-4,"cu":14},
{"d":"2021-06-09","a":-15,"af":-13,"al":-22,"au":-4,"b":34,"bf":25,"bl":14,"bu":36,"c":3,"cf":1,"cl":-8,"cu":10},
{"d":"2021-06-13","a":-20,"af":-16,"al":-25,"au":-7,"b":24,"bf":28,"bl":17,"bu":39,"c":-3,"cf":-2,"cl":-11,"cu":7},
{"d":"2021-06-17","a":-23,"af":-20,"al":-29,"au":-11,"b":21,"bf":22,"bl":11,"bu":33,"c":-8,"cf":-6,"cl":-15,"cu":3},
{"d":"2021-06-21","a":-26,"af":-24,"al":-33,"au":-15,"b":30,"bf":26,"bl":15,"bu":37,"c":-10,"cf":-9,"cl":-18,"cu":0},
{"d":"2021-06-25","a":-30,"af":-28,"al":-37,"au":-19,"b":12,"bf":20,"bl":9,"bu":31,"c":-17,"cf":-13,"cl":-22,"cu":-4},
{"d":"2021-06-29","a":-34,"af":-31,"al":-40,"au":-22,"b":8,"bf":24,"bl":13,"bu":35,"c":-20,"cf":-16,"cl":-25,"cu":-7},
{"d":"2021-07-03","a":-37,"af":-34,"al":-43,"au":-25,"b":20,"bf":18,"bl":7,"bu":29,"c":-22,"cf":-19,"cl":-28,"cu":-10},
{"d":"2021-07-07","a":-40,"af":-38,"al":-47,"au":-29,"b":35,"bf":22,"bl":11,"bu":33,"c":-24,"cf":-20,"cl":-29,"cu":-11},
{"d":"2021-07-11","a":-45,"af":-41,"al":-50,"au":-32,"b":10,"bf":16,"bl":5,"bu":27,"c":-29,"cf":-22,"cl":-31,"cu":-13},
{"d":"2021-07-15","a":-46,"af":-44,"al":-53,"au":-35,"b":12,"bf":20,"bl":9,"bu":31,"c":-33,"cf":-26,"cl":-35,"cu":-17},
{"d":"2021-07-19","a":-56,"af":-55,"al":-64,"au":-46,"b":-3,"bf":-3,"bl":-14,"bu":8,"c":-30,"cf":-29,"cl":-38,"cu":-20},
{"d":"2021-07-23","a":-42,"af":-40,"al":-49,"au":-31,"b":20,"bf":18,"bl":7,"bu":29,"c":-28,"cf":-23,"cl":-32,"cu":-14},
{"d":"2021-07-27","a":-41,"af":-39,"al":-48,"au":-30,"b":14,"bf":22,"bl":11,"bu":33,"c":-22,"cf":-20,"cl":-29,"cu":-11},
{"d":"2021-07-31","a":-38,"af":-36,"al":-45,"au":-27,"b":25,"bf":18,"bl":7,"bu":29,"c":-18,"cf":-16,"cl":-25,"cu":-7},
{"d":"2021-08-04","a":-35,"af":-35,"al":-44,"au":-26,"b":26,"bf":24,"bl":13,"bu":35,"c":-13,"cf":-14,"cl":-23,"cu":-5},
{"d":"2021-08-08","a":-30,"af":-32,"al":-41,"au":-23,"b":18,"bf":20,"bl":9,"bu":31,"c":-15,"cf":-11,"cl":-20,"cu":-2},
{"d":"2021-08-12","a":-36,"af":-33,"al":-42,"au":-24,"b":23,"bf":25,"bl":14,"bu":36,"c":-5,"cf":-9,"cl":-18,"cu":0},
{"d":"2021-08-16","a":-28,"af":-29,"al":-38,"au":-20,"b":33,"bf":20,"bl":9,"bu":31,"c":0,"cf":-7,"cl":-16,"cu":2},
{"d":"2021-08-20","a":-33,"af":-30,"al":-39,"au":-21,"b":20,"bf":26,"bl":15,"bu":37,"c":-7,"cf":-5,"cl":-14,"cu":4},
{"d":"2021-08-24","a":-26,"af":-27,"al":-36,"au":-18,"b":19,"bf":21,"bl":10,"bu":32,"c":-4,"cf":-2,"cl":-11,"cu":7},
{"d":"2021-08-28","a":-28,"af":-25,"al":-34,"au":-16,"b":37,"bf":26,"bl":15,"bu":37,"c":-8,"cf":-3,"cl":-12,"cu":6},
{"d":"2021-09-01","a":-20,"af":-22,"al":-31,"au":-13,"b":25,"bf":21,"bl":10,"bu":32,"c":3,"cf":0,"cl":-9,"cu":9},
{"d":"2021-09-05","a":-23,"af":-21,"al":-30,"au":-12,"b":29,"bf":27,"bl":16,"bu":38,"c":-3,"cf":1,"cl":-8,"cu":10},
{"d":"2021-09-09","a":-15,"af":-18,"al":-27,"au":-9,"b":12,"bf":22,"bl":11,"bu":33,"c":4,"cf":3,"cl":-6,"cu":12},
{"d":"2021-09-13","a":-21,"af":-19,"al":-28,"au":-10,"b":26,"bf":27,"bl":16,"bu":38,"c":-1,"cf":1,"cl":-8,"cu":10},
{"d":"2021-09-17","a":-12,"af":-16,"al":-25,"au":-7,"b":20,"bf":22,"bl":11,"bu":33,"c":6,"cf":4,"cl":-5,"cu":13},
{"d":"2021-09-21","a":-18,"af":-17,"al":-26,"au":-8,"b":31,"bf":28,"bl":17,"bu":39,"c":2,"cf":3,"cl":-6,"cu":12},
{"d":"2021-09-25","a":-12,"af":-13,"al":-22,"au":-4,"b":27,"bf":23,"bl":12,"bu":34,"c":8,"cf":5,"cl":-4,"cu":14},
{"d":"2021-09-29","a":-16,"af":-14,"al":-23,"au":-5,"b":39,"bf":29,"bl":18,"bu":40,"c":4,"cf":4,"cl":-5,"cu":13},
{"d":"2021-10-03","a":-10,"af":-11,"al":-20,"au":-2,"b":33,"bf":24,"bl":13,"bu":35,"c":10,"cf":7,"cl":-2,"cu":16},
{"d":"2021-10-07","a":-14,"af":-12,"al":-21,"au":-3,"b":28,"bf":29,"bl":18,"bu":40,"c":-5,"cf":5,"cl":-4,"cu":14},
{"d":"2021-10-11","a":-7,"af":-8,"al":-17,"au":1,"b":13,"bf":24,"bl":13,"bu":35,"c":10,"cf":8,"cl":-1,"cu":17},
{"d":"2021-10-15","a":-1,"af":-9,"al":-18,"au":0,"b":36,"bf":30,"bl":19,"bu":41,"c":4,"cf":6,"cl":-3,"cu":15},
{"d":"2021-10-19","a":-5,"af":-6,"al":-15,"au":3,"b":24,"bf":25,"bl":14,"bu":36,"c":22,"cf":9,"cl":0,"cu":18},
{"d":"2021-10-23","a":-9,"af":-7,"al":-16,"au":2,"b":29,"bf":30,"bl":19,"bu":41,"c":7,"cf":6,"cl":-3,"cu":15},
{"d":"2021-10-27","a":-2,"af":-4,"al":-13,"au":5,"b":37,"bf":25,"bl":14,"bu":36,"c":5,"cf":8,"cl":-1,"cu":17},
{"d":"2021-10-31","a":-8,"af":-6,"al":-15,"au":3,"b":26,"bf":30,"bl":19,"bu":41,"c":8,"cf":5,"cl":-4,"cu":14},
{"d":"2021-11-04","a":0,"af":-3,"al":-12,"au":6,"b":19,"bf":25,"bl":14,"bu":36,"c":14,"cf":9,"cl":0,"cu":18},
{"d":"2021-11-08","a":-5,"af":-5,"al":-14,"au":4,"b":39,"bf":31,"bl":20,"bu":42,"c":5,"cf":6,"cl":-3,"cu":15},
{"d":"2021-11-12","a":-2,"af":-3,"al":-12,"au":6,"b":22,"bf":26,"bl":15,"bu":37,"c":0,"cf":8,"cl":-1,"cu":17},
{"d":"2021-11-16","a":-7,"af":-4,"al":-13,"au":5,"b":28,"bf":31,"bl":20,"bu":42,"c":9,"cf":6,"cl":-3,"cu":15},
{"d":"2021-11-20","a":0,"af":-2,"al":-11,"au":7,"b":19,"bf":26,"bl":15,"bu":37,"c":15,"cf":9,"cl":0,"cu":18},
{"d":"2021-11-24","a":-4,"af":-3,"al":-12,"au":6,"b":45,"bf":32,"bl":21,"bu":43,"c":5,"cf":7,"cl":-2,"cu":16},
{"d":"2021-11-28","a":1,"af":0,"al":-9,"au":9,"b":31,"bf":27,"bl":16,"bu":38,"c":12,"cf":10,"cl":1,"cu":19},
{"d":"2021-12-02","a":-3,"af":-2,"al":-11,"au":7,"b":36,"bf":32,"bl":21,"bu":43,"c":6,"cf":8,"cl":-1,"cu":17},
{"d":"2021-12-06","a":3,"af":1,"al":-8,"au":10,"b":24,"bf":28,"bl":17,"bu":39,"c":19,"cf":11,"cl":2,"cu":20},
{"d":"2021-12-10","a":0,"af":2,"al":-7,"au":11,"b":30,"bf":34,"bl":23,"bu":45,"c":9,"cf":9,"cl":0,"cu":18},
{"d":"2021-12-14","a":6,"af":4,"al":-5,"au":13,"b":28,"bf":29,"bl":18,"bu":40,"c":11,"cf":13,"cl":4,"cu":22},
{"d":"2021-12-18","a":2,"af":3,"al":-6,"au":12,"b":42,"bf":38,"bl":27,"bu":49,"c":14,"cf":11,"cl":2,"cu":20},
{"d":"2021-12-22","a":10,"af":7,"al":-2,"au":16,"b":36,"bf":33,"bl":22,"bu":44,"c":18,"cf":15,"cl":6,"cu":24},
{"d":"2021-12-26","a":6,"af":8,"al":-1,"au":17,"b":48,"bf":39,"bl":28,"bu":50,"c":10,"cf":13,"cl":4,"cu":22},
{"d":"2021-12-30","a":12,"af":5,"al":-4,"au":14,"b":68,"bf":34,"bl":23,"bu":45,"c":34,"cf":16,"cl":7,"cu":25},
{"d":"2022-01-03","a":4,"af":2,"al":-7,"au":11,"b":37,"bf":38,"bl":27,"bu":49,"c":25,"cf":12,"cl":3,"cu":21},
{"d":"2022-01-07","a":-2,"af":0,"al":-9,"au":9,"b":29,"bf":32,"bl":21,"bu":43,"c":12,"cf":14,"cl":5,"cu":23},
{"d":"2022-01-11","a":2,"af":-3,"al":-12,"au":6,"b":25,"bf":37,"bl":26,"bu":48,"c":4,"cf":10,"cl":1,"cu":19},
{"d":"2022-01-15","a":-7,"af":-5,"al":-14,"au":4,"b":35,"bf":31,"bl":20,"bu":42,"c":15,"cf":12,"cl":3,"cu":21},
{"d":"2022-01-19","a":-5,"af":-7,"al":-16,"au":2,"b":38,"bf":35,"bl":24,"bu":46,"c":9,"cf":9,"cl":0,"cu":18},
{"d":"2022-01-23","a":-10,"af":-8,"al":-17,"au":1,"b":24,"bf":29,"bl":18,"bu":40,"c":11,"cf":12,"cl":3,"cu":21},
{"d":"2022-01-27","a":-8,"af":-10,"al":-19,"au":-1,"b":48,"bf":34,"bl":23,"bu":45,"c":5,"cf":10,"cl":1,"cu":19},
{"d":"2022-01-31","a":-14,"af":-12,"al":-21,"au":-3,"b":30,"bf":29,"bl":18,"bu":40,"c":30,"cf":16,"cl":7,"cu":25},
{"d":"2022-02-04","a":-18,"af":-15,"al":-24,"au":-6,"b":41,"bf":33,"bl":22,"bu":44,"c":8,"cf":9,"cl":0,"cu":18},
{"d":"2022-02-08","a":-22,"af":-17,"al":-26,"au":-8,"b":26,"bf":28,"bl":17,"bu":39,"c":4,"cf":7,"cl":-2,"cu":16},
{"d":"2022-02-12","a":-20,"af":-18,"al":-27,"au":-9,"b":34,"bf":32,"bl":21,"bu":43,"c":10,"cf":8,"cl":-1,"cu":17},
{"d":"2022-02-16","a":-24,"af":-16,"al":-25,"au":-7,"b":22,"bf":27,"bl":16,"bu":38,"c":-2,"cf":5,"cl":-4,"cu":14},
{"d":"2022-02-20","a":-15,"af":-13,"al":-22,"au":-4,"b":24,"bf":33,"bl":22,"bu":44,"c":6,"cf":7,"cl":-2,"cu":16},
{"d":"2022-02-24","a":-6,"af":-9,"al":-18,"au":0,"b":49,"bf":29,"bl":18,"bu":40,"c":27,"cf":9,"cl":0,"cu":18},
{"d":"2022-02-28","a":-2,"af":-5,"al":-14,"au":4,"b":45,"bf":36,"bl":25,"bu":47,"c":12,"cf":8,"cl":-1,"cu":17},
{"d":"2022-03-04","a":-5,"af":-6,"al":-15,"au":3,"b":42,"bf":30,"bl":19,"bu":41,"c":9,"cf":10,"cl":1,"cu":19},
{"d":"2022-03-08","a":-8,"af":-4,"al":-13,"au":5,"b":32,"bf":34,"bl":23,"bu":45,"c":4,"cf":7,"cl":-2,"cu":16},
{"d":"2022-03-12","a":-3,"af":-6,"al":-15,"au":3,"b":27,"bf":29,"bl":18,"bu":40,"c":7,"cf":9,"cl":0,"cu":18},
{"d":"2022-03-16","a":-7,"af":-5,"al":-14,"au":4,"b":24,"bf":33,"bl":22,"bu":44,"c":5,"cf":6,"cl":-3,"cu":15},
{"d":"2022-03-20","a":-4,"af":-7,"al":-16,"au":2,"b":36,"bf":28,"bl":17,"bu":39,"c":10,"cf":8,"cl":-1,"cu":17},
{"d":"2022-03-24","a":-9,"af":-6,"al":-15,"au":3,"b":28,"bf":32,"bl":21,"bu":43,"c":13,"cf":6,"cl":-3,"cu":15},
{"d":"2022-03-28","a":9,"af":-8,"al":-17,"au":1,"b":41,"bf":30,"bl":19,"bu":41,"c":20,"cf":7,"cl":-2,"cu":16},
{"d":"2022-04-01","a":-14,"af":-11,"al":-20,"au":-2,"b":56,"bf":33,"bl":22,"bu":44,"c":25,"cf":5,"cl":-4,"cu":14},
{"d":"2022-04-05","a":-20,"af":-10,"al":-19,"au":-1,"b":23,"bf":26,"bl":15,"bu":37,"c":-33,"cf":-5,"cl":-14,"cu":4},
{"d":"2022-04-09","af":-2,"al":-12,"au":8,"bf":24,"bl":12,"bu":37,"cf":-2,"cl":-12,"cu":8},
{"d":"2022-04-13","af":2,"al":-8,"au":13,"bf":28,"bl":14,"bu":41,"cf":2,"cl":-8,"cu":13},
{"d":"2022-04-17","af":3,"al":-7,"au":15,"bf":22,"bl":9,"bu":36,"cf":5,"cl":-6,"cu":17},
{"d":"2022-04-21","af":7,"al":-4,"au":20,"bf":29,"bl":14,"bu":44,"cf":9,"cl":-3,"cu":22},
{"d":"2022-04-25","af":10,"al":-2,"au":24,"bf":26,"bl":11,"bu":42,"cf":12,"cl":0,"cu":27},
{"d":"2022-04-29","af":24,"al":10,"au":38,"bf":33,"bl":17,"bu":50,"cf":18,"cl":4,"cu":34},
{"d":"2022-05-01","af":9,"al":-4,"au":32,"bf":40,"bl":23,"bu":53,"cf":30,"cl":16,"cu":44}
]},
"hconcat":[
{"width":481,"height":307,"title":"Transit Station","layer":[
{"data":{"name":"p"},"mark":{"type":"rect"},"encoding":{"x":{"field":"s","type":"temporal","scale":{"domain":["2020-01-06","2022-06-11"]},"axis":{"title":null,"format":"%Y-%m","labelFlush":false,"values":[{"year":2020,"month":"apr","date":1},{"year":2020,"month":"jul","date":1},{"year":2020,"month":"oct","date":1},{"year":2021,"month":"jan","date":1},{"year":2021,"month":"apr","date":1},{"year":2021,"month":"jul","date":1},{"year":2021,"month":"oct","date":1},{"year":2022,"month":"jan","date":1},{"year":2022,"month":"apr","date":1}]}},"x2":{"field":"e"},"color":{"field":"k","type":"nominal","scale":{"domain":["Ramadan dan Idul Fitri","PPKM Nasional","PPKM Jawa-Bali","PPKM Mikro","PPKM Darurat","PPKM Level 2 - 4"],"range":["#ff2a1a","#fae8d6","#fbebd9","#fdf3e2","#fdf5e0","#fefae6"]},"legend":{"title":null,"symbolType":"M-1,-0.32H1V0.32H-1Z","symbolStrokeWidth":0,"symbolOpacity":1}}}},
{"data":{"name":"r"},"mark":{"type":"rule","strokeWidth":1.5,"opacity":0.7},"encoding":{"x":{"field":"s","type":"temporal"},"x2":{"field":"e"},"y":{"field":"ya","type":"quantitative","scale":{"domain":[-81.4,45.2],"nice":false,"zero":false},"axis":{"title":null,"values":[-80,-60,-40,-20,0,20,40]}},"color":{"field":"k","type":"nominal"}}},
{"data":{"name":"m"},"mark":{"type":"area","color":"#0072B2","opacity":0.2},"encoding":{"x":{"field":"d","type":"temporal"},"y":{"field":"al","type":"quantitative"},"y2":{"field":"au"}}},
{"data":{"values":[{}]},"mark":{"type":"rule","color":"#666","strokeWidth":0.8,"strokeDash":[3,2]},"encoding":{"y":{"datum":0}}},
{"data":{"name":"m"},"mark":{"type":"line","color":"#0072B2","strokeWidth":1.2},"encoding":{"x":{"field":"d","type":"temporal"},"y":{"field":"af","type":"quantitative"}}},
{"data":{"name":"m"},"mark":{"type":"circle","color":"#000","size":9,"opacity":1},"encoding":{"x":{"field":"d","type":"temporal"},"y":{"field":"a","type":"quantitative"}}},
{"data":{"name":"n"},"mark":{"type":"circle","color":"#000","size":9,"opacity":1},"encoding":{"x":{"field":"d","type":"temporal"},"y":{"field":"a","type":"quantitative"}}},
{"data":{"name":"x"},"mark":{"type":"circle","color":"#000","size":9,"opacity":1},"encoding":{"x":{"field":"d","type":"temporal"},"y":{"field":"a","type":"quantitative"}}}
]},
{"width":480,"height":307,"title":"Grocery & Pharmacy","layer":[
{"data":{"name":"p"},"mark":{"type":"rect"},"encoding":{"x":{"field":"s","type":"temporal","scale":{"domain":["2020-01-06","2022-06-11"]},"axis":{"title":null,"format":"%Y-%m","labelFlush":false,"values":[{"year":2020,"month":"apr","date":1},{"year":2020,"month":"jul","date":1},{"year":2020,"month":"oct","date":1},{"year":2021,"month":"jan","date":1},{"year":2021,"month":"apr","date":1},{"year":2021,"month":"jul","date":1},{"year":2021,"month":"oct","date":1},{"year":2022,"month":"jan","date":1},{"year":2022,"month":"apr","date":1}]}},"x2":{"field":"e"},"color":{"field":"k","type":"nominal","scale":{"domain":["Ramadan dan Idul Fitri","PPKM Nasional","PPKM Jawa-Bali","PPKM Mikro","PPKM Darurat","PPKM Level 2 - 4"],"range":["#ff2a1a","#fae8d6","#fbebd9","#fdf3e2","#fdf5e0","#fefae6"]},"legend":{"title":null,"symbolType":"M-1,-0.32H1V0.32H-1Z","symbolStrokeWidth":0,"symbolOpacity":1}}}},
{"data":{"name":"r"},"mark":{"type":"rule","strokeWidth":1.5,"opacity":0.7},"encoding":{"x":{"field":"s","type":"temporal"},"x2":{"field":"e"},"y":{"field":"yb","type":"quantitative","scale":{"domain":[-44.9,73.2],"nice":false,"zero":false},"axis":{"title":null,"values":[-40,-20,0,20,40,60]}},"color":{"field":"k","type":"nominal"}}},
{"data":{"name":"m"},"mark":{"type":"area","color":"#0072B2","opacity":0.2},"encoding":{"x":{"field":"d","type":"temporal"},"y":{"field":"bl","type":"quantitative"},"y2":{"field":"bu"}}},
{"data":{"values":[{}]},"mark":{"type":"rule","color":"#666","strokeWidth":0.8,"strokeDash":[3,2]},"encoding":{"y":{"datum":0}}},
{"data":{"name":"m"},"mark":{"type":"line","color":"#0072B2","strokeWidth":1.2},"encoding":{"x":{"field":"d","type":"temporal"},"y":{"field":"bf","type":"quantitative"}}},
{"data":{"name":"m"},"mark":{"type":"circle","color":"#000","size":9,"opacity":1},"encoding":{"x":{"field":"d","type":"temporal"},"y":{"field":"b","type":"quantitative"}}},
{"data":{"name":"n"},"mark":{"type":"circle","color":"#000","size":9,"opacity":1},"encoding":{"x":{"field":"d","type":"temporal"},"y":{"field":"b","type":"quantitative"}}},
{"data":{"name":"x"},"mark":{"type":"circle","color":"#000","size":9,"opacity":1},"encoding":{"x":{"field":"d","type":"temporal"},"y":{"field":"b","type":"quantitative"}}}
]},
{"width":480,"height":307,"title":"Retail & Recreation","layer":[
{"data":{"name":"p"},"mark":{"type":"rect"},"encoding":{"x":{"field":"s","type":"temporal","scale":{"domain":["2020-01-06","2022-06-11"]},"axis":{"title":null,"format":"%Y-%m","labelFlush":false,"values":[{"year":2020,"month":"apr","date":1},{"year":2020,"month":"jul","date":1},{"year":2020,"month":"oct","date":1},{"year":2021,"month":"jan","date":1},{"year":2021,"month":"apr","date":1},{"year":2021,"month":"jul","date":1},{"year":2021,"month":"oct","date":1},{"year":2022,"month":"jan","date":1},{"year":2022,"month":"apr","date":1}]}},"x2":{"field":"e"},"color":{"field":"k","type":"nominal","scale":{"domain":["Ramadan dan Idul Fitri","PPKM Nasional","PPKM Jawa-Bali","PPKM Mikro","PPKM Darurat","PPKM Level 2 - 4"],"range":["#ff2a1a","#fae8d6","#fbebd9","#fdf3e2","#fdf5e0","#fefae6"]},"legend":{"title":null,"symbolType":"M-1,-0.32H1V0.32H-1Z","symbolStrokeWidth":0,"symbolOpacity":1}}}},
{"data":{"name":"r"},"mark":{"type":"rule","strokeWidth":1.5,"opacity":0.7},"encoding":{"x":{"field":"s","type":"temporal"},"x2":{"field":"e"},"y":{"field":"yc","type":"quantitative","scale":{"domain":[-73.4,50.2],"nice":false,"zero":false},"axis":{"title":null,"values":[-60,-40,-20,0,20,40]}},"color":{"field":"k","type":"nominal"}}},
{"data":{"name":"m"},"mark":{"type":"area","color":"#0072B2","opacity":0.2},"encoding":{"x":{"field":"d","type":"temporal"},"y":{"field":"cl","type":"quantitative"},"y2":{"field":"cu"}}},
{"data":{"values":[{}]},"mark":{"type":"rule","color":"#666","strokeWidth":0.8,"strokeDash":[3,2]},"encoding":{"y":{"datum":0}}},
{"data":{"name":"m"},"mark":{"type":"line","color":"#0072B2","strokeWidth":1.2},"encoding":{"x":{"field":"d","type":"temporal"},"y":{"field":"cf","type":"quantitative"}}},
{"data":{"name":"m"},"mark":{"type":"circle","color":"#000","size":9,"opacity":1},"encoding":{"x":{"field":"d","type":"temporal"},"y":{"field":"c","type":"quantitative"}}},
{"data":{"name":"n"},"mark":{"type":"circle","color":"#000","size":9,"opacity":1},"encoding":{"x":{"field":"d","type":"temporal"},"y":{"field":"c","type":"quantitative"}}},
{"data":{"name":"x"},"mark":{"type":"circle","color":"#000","size":9,"opacity":1},"encoding":{"x":{"field":"d","type":"temporal"},"y":{"field":"c","type":"quantitative"}}}
]}
],
"spacing":66,
"bounds":"flush",
"resolve":{"scale":{"color":"independent","y":"independent"},"legend":{"color":"independent"}},
"config":{
"font":"Liberation Serif",
"view":{"stroke":"#808080","strokeWidth":1},
"axis":{"grid":false,"domain":false,"labelFont":"Liberation Serif","labelFontSize":12,"labelColor":"#333","tickColor":"#555","tickSize":3.5,"labelPadding":1.5},
"axisX":{"labelPadding":2},
"title":{"font":"Liberation Serif","fontSize":15,"fontWeight":"normal","color":"#222","offset":4},
"legend":{"orient":"top-left","offset":3,"padding":3,"fillColor":"rgba(255,255,255,0.85)","strokeColor":"#d5d5d5","cornerRadius":2,"labelFont":"Liberation Serif","labelFontSize":7,"labelColor":"#222","symbolSize":144,"rowPadding":1.2,"labelOffset":4,"labelLimit":300}
}
}
